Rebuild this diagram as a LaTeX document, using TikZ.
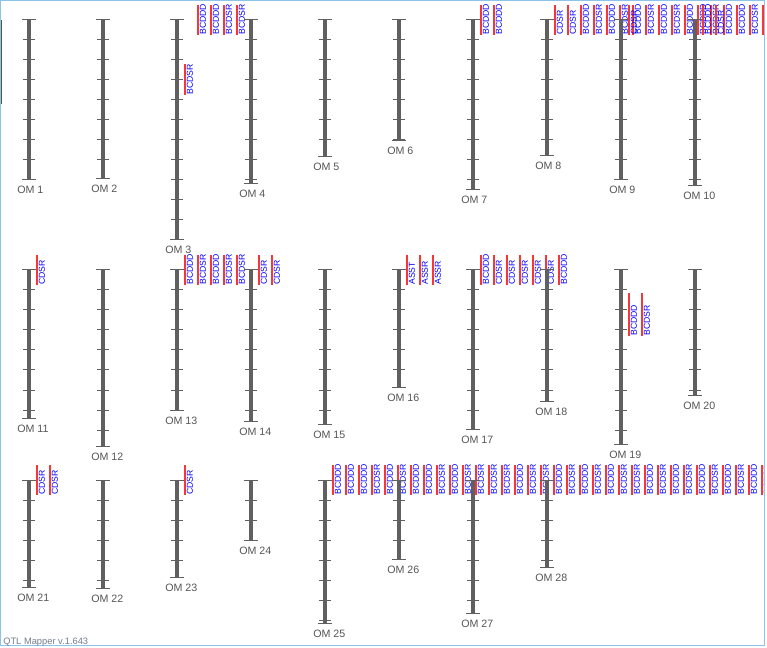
\documentclass[tikz,border=0pt]{standalone}
\usepackage{fontspec}
\setmainfont{Liberation Sans}
\definecolor{chromgray}{RGB}{96,96,96}
\definecolor{labelgray}{RGB}{85,85,85}
\definecolor{qtlred}{RGB}{245,55,55}
\definecolor{qtlblue}{RGB}{0,0,255}
\definecolor{frameblue}{RGB}{140,195,235}
\definecolor{notegray}{RGB}{115,125,140}
\tikzset{
	chrombar/.style={fill=chromgray},
	chromtick/.style={draw=chromgray, line width=0.75pt},
	chromlabel/.style={anchor=base west, inner sep=0, text=labelgray, font=\fontsize{8}{9}\selectfont},
	qtlline/.style={draw=qtlred, line width=1.2pt},
	qtltext/.style={rotate=90, anchor=north west, inner sep=0, text=qtlblue, font=\fontsize{6.5}{7}\selectfont},
}
\begin{document}
\begin{tikzpicture}[x=0.75pt, y=-0.75pt]
	\useasboundingbox (0,0) rectangle (767,648);
	\begin{scope}
		\clip (0,0) rectangle (764,645.5);
		\foreach \qname [count=\qi from 0] in {CDSR,CDSR,BCDDD,BCDSR,BCDDD,BCDSR,BCDDD,BCDSR,BCDDD,BCDSR,BCDDD,BCDDD,BCDSR,BCDDD,BCDDD,BCDSR,BCDDD} {
			\draw[qtlline] (555+13*\qi,5) -- (555+13*\qi,35);
			\node[qtltext] (qtlviii\qi) at (556.5+13*\qi,35) {\qname};
		}
		\foreach \qname [count=\qi from 0] in {BCDDD,BCDDD,BCDDD,BCDSR,BCDDD,BCDSR,BCDDD,BCDDD,BCDSR,BCDDD,BCDSR,BCDSR,BCDSR,BCDSR,BCDDD,BCDSR,BCDSR,BCDDD,BCDSR,BCDDD,BCDSR,BCDDD,BCDSR,BCDSR,BCDDD,BCDSR,BCDDD,BCDSR,BCDDD,BCDSR,BCDDD,BCDSR,BCDDD,BCDSR} {
			\draw[qtlline] (333+13*\qi,465) -- (333+13*\qi,495);
			\node[qtltext] (qtlxxv\qi) at (334.5+13*\qi,495) {\qname};
		}
		\foreach \qx/\qtop/\qbot/\qname [count=\qi] in {198/5/35/BCDDD, 211/5/35/BCDDD, 224/5/35/BCDSR, 237/5/35/BCDSR, 185/64/95/BCDSR,
				481/5/35/BCDDD, 494/5/35/BCDDD, 629/5/35/CDSR, 703/5/35/BCDDD, 716/5/35/CDSR,
				37/255/285/CDSR, 185/255/285/BCDDD, 198/255/285/BCDSR, 211/255/285/BCDDD, 224/255/285/BCDSR, 237/255/285/BCDSR,
				259/255/285/CDSR, 272/255/285/CDSR, 407/255/285/ASST, 420/255/285/ASSR, 433/255/285/ASSR,
				481/255/285/BCDDD, 494/255/285/CDSR, 507/255/285/CDSR, 520/255/285/CDSR, 533/255/285/CDSR, 546/255/285/CDSR, 559/255/285/BCDDD,
				629/293/336/BCDDD, 642/293/336/BCDSR,
				37/465/495/CDSR, 50/465/495/CDSR, 185/465/495/CDSR} {
			\draw[qtlline] (\qx,\qtop) -- (\qx,\qbot);
			\node[qtltext] (qtl\qi) at (\qx+1.5,\qbot) {\qname};
		}
		\foreach \cx/\ctop/\cbot/\cnum in {29/20/180/1, 103/20/179/2, 177/20/240/3, 251/20/184/4, 325/20/157/5,
				399/20/141/6, 473/20/190/7, 547/20/156/8, 621/20/180/9, 695/20/186/10,
				29/270/418/11, 103/270/446/12, 177/270/410/13, 251/270/421/14, 325/270/424/15,
				399/270/387/16, 473/270/429/17, 547/270/401/18, 621/270/444/19, 695/270/395/20,
				29/480/587/21, 103/480/588/22, 177/480/577/23, 251/480/540/24, 325/480/623/25,
				399/480/559/26, 473/480/613/27, 547/480/567/28} {
			\fill[chrombar] (\cx-2.25,\ctop) rectangle (\cx+2.25,\cbot);
			\pgfmathtruncatemacro\tnext{\ctop+20}
			\foreach \ty in {\ctop,\tnext,...,\cbot}
				\draw[chromtick] (\cx-6,\ty) -- (\cx+6,\ty);
			\draw[chromtick] (\cx-7,\ctop) -- (\cx+7,\ctop) (\cx-7,\cbot) -- (\cx+7,\cbot);
			\node[chromlabel] (om\cnum) at (\cx-12,\cbot+14) {OM \cnum};
		}
	\end{scope}
	\fill[labelgray] (0,20) rectangle (1.5,104);
	\draw[frameblue, line width=0.75pt] (0.5,0.5) rectangle (764,645.5);
	\node[anchor=base west, inner sep=0, text=notegray, font=\fontsize{7}{8}\selectfont] (version) at (3,644) {QTL Mapper v.1.643};
\end{tikzpicture}
\end{document}
